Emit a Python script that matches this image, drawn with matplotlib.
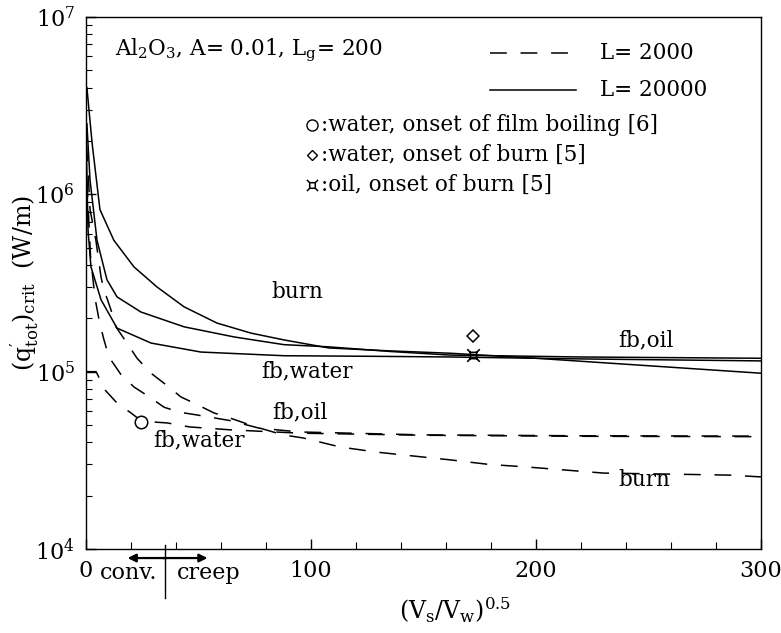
import matplotlib
matplotlib.use("Agg")
import matplotlib.pyplot as plt
from matplotlib.lines import Line2D
from matplotlib.path import Path
import matplotlib.transforms as mtransforms

# ---------------- data ----------------
# L = 20000 (solid)
x_burn_s = [0.4, 2.7, 6.2, 12.4, 21.3, 31.6, 43.6, 58.2, 73.3, 88, 108, 135, 162, 200, 250, 300]
q_burn_s = [4.0e6, 1.95e6, 8.2e5, 5.5e5, 3.9e5, 3.0e5, 2.32e5, 1.88e5, 1.65e5, 1.51e5, 1.36e5, 1.31e5, 1.27e5, 1.19e5, 1.08e5, 0.98e5]

x_oil_s = [0.4, 1.8, 4.9, 9.3, 13.8, 24.4, 43.6, 65.8, 88, 108, 135, 162, 220, 300]
q_oil_s = [2.5e6, 1.2e6, 5.5e5, 3.3e5, 2.64e5, 2.17e5, 1.79e5, 1.57e5, 1.42e5, 1.38e5, 1.30e5, 1.24e5, 1.21e5, 1.19e5]

x_wat_s = [0.3, 0.9, 2.2, 6.7, 13.8, 28.9, 51.1, 88, 130, 162, 220, 300]
q_wat_s = [1.5e6, 6.3e5, 3.9e5, 2.54e5, 1.76e5, 1.45e5, 1.29e5, 1.23e5, 1.22e5, 1.21e5, 1.18e5, 1.15e5]

# L = 2000 (dashed)
x_burn_d = [0.3, 1.8, 4.4, 6.7, 8, 11.1, 13.3, 18.2, 22.7, 28.9, 34.7, 42.2, 48, 56.9, 62.7,
            75, 87.6, 96.4, 113, 129, 145, 162, 179, 196, 230, 263, 286, 300]
q_burn_d = [1.9e6, 8.2e5, 5.5e5, 3.4e5, 2.9e5, 2.23e5, 1.79e5, 1.45e5, 1.19e5, 9.8e4, 8.6e4, 7.2e4, 6.65e4, 5.85e4, 5.55e4,
            4.9e4, 4.4e4, 4.23e4, 3.76e4, 3.52e4, 3.35e4, 3.18e4, 3.0e4, 2.9e4, 2.68e4, 2.64e4, 2.61e4, 2.55e4]

x_oil_d = [0.4, 2, 4, 6, 8, 10.2, 15.6, 21.3, 28.9, 34.7, 41.8, 49.3, 64, 77, 95, 150, 220, 300]
q_oil_d = [1.2e6, 4.5e5, 2.6e5, 1.9e5, 1.51e5, 1.21e5, 9.6e4, 8.2e4, 7.1e4, 6.3e4, 5.9e4, 5.7e4, 5.3e4, 4.8e4, 4.57e4, 4.4e4, 4.35e4, 4.33e4]

x_wat_d = [0, 4.5, 8.4, 13.8, 20, 24.4, 30, 36, 46, 64, 95, 150, 220, 300]
q_wat_d = [1.0e5, 1.0e5, 7.9e4, 6.65e4, 5.85e4, 5.3e4, 5.2e4, 5.14e4, 4.88e4, 4.7e4, 4.5e4, 4.38e4, 4.32e4, 4.3e4]

# experimental points
x_film_water = [24.4]
q_film_water = [5.2e4]
x_burn_water = [172]
q_burn_water = [1.59e5]
x_burn_oil = [172]
q_burn_oil = [1.24e5]

x_ticks = [0, 100, 200, 300]
x_tick_labels = ["0", "100", "200", "300"]
y_ticks = [1e4, 1e5, 1e6, 1e7]
y_tick_labels = [r"$\mathregular{10^4}$", r"$\mathregular{10^5}$", r"$\mathregular{10^6}$", r"$\mathregular{10^7}$"]

# ---------------- figure ----------------
plt.rcParams['font.family'] = ['DejaVu Serif']
plt.rcParams['mathtext.fontset'] = 'dejavuserif'

FS = 15.5

# box-with-spurs marker for the oil points
oil_marker = Path(
    [(-0.45, -0.45), (0.45, -0.45), (0.45, 0.45), (-0.45, 0.45), (-0.45, -0.45),
     (-0.45, 0.45), (-0.9, 0.9), (0.45, 0.45), (0.9, 0.9),
     (-0.45, -0.45), (-0.9, -0.9), (0.45, -0.45), (0.9, -0.9)],
    [Path.MOVETO, Path.LINETO, Path.LINETO, Path.LINETO, Path.CLOSEPOLY,
     Path.MOVETO, Path.LINETO, Path.MOVETO, Path.LINETO,
     Path.MOVETO, Path.LINETO, Path.MOVETO, Path.LINETO])

fig = plt.figure(figsize=(7.81, 6.33), dpi=100)
ax = fig.add_axes([86/781, 1 - 549/633, (761-86)/781, (549-17)/633])

lw = 1.1
dash = (11, 9)
ax.plot(x_burn_s, q_burn_s, color='black', lw=lw)
ax.plot(x_oil_s, q_oil_s, color='black', lw=lw)
ax.plot(x_wat_s, q_wat_s, color='black', lw=lw)
for xs, qs in [(x_burn_d, q_burn_d), (x_oil_d, q_oil_d), (x_wat_d, q_wat_d)]:
    ax.plot(xs, qs, color='black', lw=lw, linestyle=(0, dash))

ax.plot(x_film_water, q_film_water, 'o', ms=9, mfc='white', mec='black', mew=1.1)
ax.plot(x_burn_water, q_burn_water, 'D', ms=6, mfc='white', mec='black', mew=1.1)
ax.plot(x_burn_oil, q_burn_oil, marker=oil_marker, ms=9, mfc='none', mec='black', mew=1.2, ls='none')

ax.set_yscale('log')
ax.set_xlim(0, 300)
ax.set_ylim(1e4, 1e7)
ax.set_xticks(x_ticks)
ax.set_xticklabels(x_tick_labels, fontsize=16)
ax.set_xticks(range(0, 301, 20), minor=True)
ax.set_yticks(y_ticks)
ax.set_yticklabels(y_tick_labels, fontsize=16)
ax.tick_params(which='both', direction='in', top=False, right=False)
ax.tick_params(which='major', length=7, width=1.0, pad=8)
ax.tick_params(which='minor', length=4, width=0.8)
ax.tick_params(axis='x', which='minor', length=5)
for s in ax.spines.values():
    s.set_linewidth(1.0)

ax.set_xlabel(r"$\mathregular{(V_s/V_w)^{0.5}}$", fontsize=17)
ax.xaxis.set_label_coords(0.547, -0.088)
ax.set_ylabel(r"$\mathregular{(q^{\prime}_{tot})_{crit}}$  (W/m)", fontsize=17)
ax.yaxis.set_label_coords(-0.066, 0.5)

# conv / creep marker under the axis
trans = mtransforms.blended_transform_factory(ax.transData, ax.transAxes)
ax.plot([35, 35], [0.008, -0.092], color='black', lw=1.0, transform=trans, clip_on=False)
ax.annotate('', xy=(18.5, -0.017), xytext=(36, -0.017), xycoords=trans, textcoords=trans,
            arrowprops=dict(arrowstyle='-|>', color='black', lw=1.6, mutation_scale=12,
                            shrinkA=0, shrinkB=0), annotation_clip=False)
ax.annotate('', xy=(54, -0.017), xytext=(34, -0.017), xycoords=trans, textcoords=trans,
            arrowprops=dict(arrowstyle='-|>', color='black', lw=1.6, mutation_scale=12,
                            shrinkA=0, shrinkB=0), annotation_clip=False)
ax.text(6, -0.045, "conv.", transform=trans, fontsize=16, ha='left', va='center')
ax.text(40.5, -0.045, "creep", transform=trans, fontsize=16, ha='left', va='center')

# annotation text
ax.text(0.043, 0.938, r"$\mathregular{Al_2O_3}$, A= 0.01, $\mathregular{L_g}$= 200",
        transform=ax.transAxes, fontsize=FS, ha='left', va='center')

# legend (drawn manually)
ax.add_line(Line2D([0.599, 0.726], [0.932, 0.932], transform=ax.transAxes, color='black', lw=lw,
                   linestyle=(0, dash)))
ax.text(0.761, 0.932, "L= 2000", transform=ax.transAxes, fontsize=FS, va='center')
ax.add_line(Line2D([0.599, 0.726], [0.863, 0.863], transform=ax.transAxes, color='black', lw=lw))
ax.text(0.761, 0.863, "L= 20000", transform=ax.transAxes, fontsize=FS, va='center')

ax.plot([0.335], [0.797], 'o', ms=8, mfc='white', mec='black', mew=1.0, transform=ax.transAxes, clip_on=False)
ax.text(0.348, 0.797, ":water, onset of film boiling [6]", transform=ax.transAxes, fontsize=FS, va='center')
ax.plot([0.335], [0.741], 'D', ms=5.5, mfc='white', mec='black', mew=1.0, transform=ax.transAxes, clip_on=False)
ax.text(0.348, 0.741, ":water, onset of burn [5]", transform=ax.transAxes, fontsize=FS, va='center')
ax.plot([0.335], [0.685], marker=oil_marker, ms=8, mfc='none', mec='black', mew=1.1,
        transform=ax.transAxes, clip_on=False)
ax.text(0.348, 0.685, ":oil, onset of burn [5]", transform=ax.transAxes, fontsize=FS, va='center')

# curve labels
ax.text(94, 2.8e5, "burn", fontsize=FS, ha='center', va='center')
ax.text(98, 1.0e5, "fb,water", fontsize=FS, ha='center', va='center')
ax.text(249, 1.5e5, "fb,oil", fontsize=FS, ha='center', va='center')
ax.text(95, 5.9e4, "fb,oil", fontsize=FS, ha='center', va='center')
ax.text(50, 4.1e4, "fb,water", fontsize=FS, ha='center', va='center')
ax.text(248, 2.45e4, "burn", fontsize=FS, ha='center', va='center')

fig.savefig("out.png", dpi=100)
